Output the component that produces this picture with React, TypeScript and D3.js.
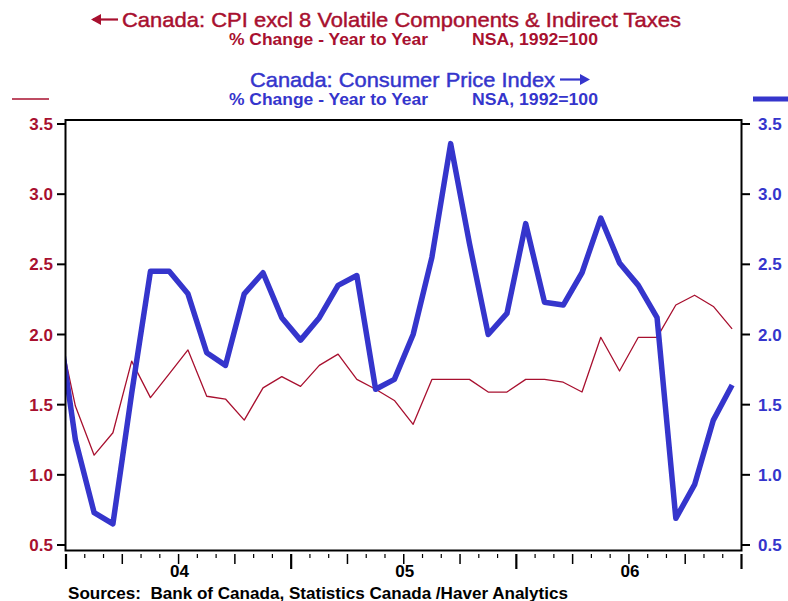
import React from "react";
import * as d3 from "d3";

const RED = "#A8102F";
const BLUE = "#3535CC";

// Months: index -1 = Dec 2003, 0..35 = Jan 2004 .. Dec 2006
const monthIndex = d3.range(-1, 36);
const cpixValues = [
  2.12,
  1.49, 1.14, 1.30, 1.81, 1.55, 1.72, 1.89, 1.56, 1.54, 1.39, 1.62, 1.70,
  1.63, 1.78, 1.86, 1.68, 1.61, 1.53, 1.36, 1.68, 1.68, 1.68, 1.59, 1.59,
  1.68, 1.68, 1.66, 1.59, 1.98, 1.74, 1.98, 1.98, 2.21, 2.28, 2.20, 2.04,
];
const cpiValues = [
  2.18,
  1.25, 0.73, 0.65, 1.58, 2.45, 2.45, 2.29, 1.87, 1.78, 2.29, 2.44, 2.12,
  1.96, 2.12, 2.35, 2.42, 1.61, 1.68, 2.00, 2.55, 3.36, 2.65, 2.00, 2.15,
  2.79, 2.23, 2.21, 2.44, 2.83, 2.51, 2.35, 2.12, 0.69, 0.93, 1.39, 1.64,
];
const yTicks = [0.5, 1.0, 1.5, 2.0, 2.5, 3.0, 3.5];
const yearLabels = ["04", "05", "06"];

const W = 788;
const H = 601;
const L = 65.5;
const R = 741.5;
const T = 120;
const B = 550.5;

export default function App() {
  const x = d3.scaleLinear().domain([0, 36]).range([L + 0.5, R]);
  const y = d3.scaleLinear().domain([0.5, 3.5]).range([545, 124]);
  const xp = (i: number) => x(i + 0.5);

  const redLine = d3
    .line<number>()
    .x((_, i) => xp(monthIndex[i]))
    .y((d) => y(d))(cpixValues) as string;
  const blueLine = d3
    .line<number>()
    .x((_, i) => xp(monthIndex[i]))
    .y((d) => y(d))(cpiValues) as string;

  const monthTicks = d3.range(0, 37);
  const font = "'Liberation Sans', Arial, sans-serif";

  return (
    <div style={{ position: "absolute", left: 0, top: 0 }}>
      <svg width={W} height={H} style={{ display: "block", background: "#fff" }} fontFamily={font}>
        <defs>
          <clipPath id="plot">
            <rect x={L} y={T} width={R - L} height={B - T} />
          </clipPath>
        </defs>

        {/* Titles */}
        <g fill={RED}>
          <line x1={93} y1={19.5} x2={118} y2={19.5} stroke={RED} strokeWidth={2.2} />
          <path d="M91,19.5 L101,14 L101,25 Z" />
          <text x={122} y={27} fontSize={21} stroke={RED} strokeWidth={0.45} textLength={559} lengthAdjust="spacingAndGlyphs">
            Canada: CPI excl 8 Volatile Components &amp; Indirect Taxes
          </text>
          <text x={229} y={45} fontSize={16} fontWeight="bold" textLength={199} lengthAdjust="spacingAndGlyphs">% Change - Year to Year</text>
          <text x={472} y={45} fontSize={16} fontWeight="bold" textLength={126} lengthAdjust="spacingAndGlyphs">NSA, 1992=100</text>
        </g>
        <g fill={BLUE}>
          <text x={250} y={87} fontSize={21} stroke={BLUE} strokeWidth={0.45} textLength={305} lengthAdjust="spacingAndGlyphs">
            Canada: Consumer Price Index
          </text>
          <line x1={560} y1={79.5} x2={584} y2={79.5} stroke={BLUE} strokeWidth={2.2} />
          <path d="M590,79.5 L580,74 L580,85 Z" />
          <text x={229} y={105} fontSize={16} fontWeight="bold" textLength={199} lengthAdjust="spacingAndGlyphs">% Change - Year to Year</text>
          <text x={472} y={105} fontSize={16} fontWeight="bold" textLength={126} lengthAdjust="spacingAndGlyphs">NSA, 1992=100</text>
        </g>

        {/* legend keys */}
        <line x1={12} y1={99} x2={49} y2={99} stroke={RED} strokeWidth={1.5} />
        <line x1={753} y1={99} x2={788} y2={99} stroke={BLUE} strokeWidth={5} />

        {/* data */}
        <g clipPath="url(#plot)" fill="none" strokeLinejoin="round">
          <path d={redLine} stroke={RED} strokeWidth={1.3} />
          <path d={blueLine} stroke={BLUE} strokeWidth={5.5} />
        </g>

        {/* frame */}
        <rect x={L} y={T} width={R - L} height={B - T} fill="none" stroke="#000" strokeWidth={2} />

        {/* y axes */}
        {yTicks.map((t) => (
          <g key={t}>
            <line x1={57} x2={L} y1={y(t)} y2={y(t)} stroke="#000" strokeWidth={2} />
            <line x1={R} x2={750} y1={y(t)} y2={y(t)} stroke="#000" strokeWidth={2} />
            <text x={53} y={y(t) + 6} fontSize={17} fontWeight="bold" fill={RED} textAnchor="end">
              {t.toFixed(1)}
            </text>
            <text x={758} y={y(t) + 6} fontSize={17} fontWeight="bold" fill={BLUE}>
              {t.toFixed(1)}
            </text>
          </g>
        ))}

        {/* x axis ticks */}
        {monthTicks.map((m) => {
          const len = m % 12 === 0 ? 15 : m % 3 === 0 ? 10 : 4;
          const w = m % 12 === 0 ? 2.2 : m % 3 === 0 ? 1.5 : 1.2;
          const xx = x(m);
          return <line key={m} x1={xx} x2={xx} y1={554} y2={554 + len} stroke="#000" strokeWidth={w} />;
        })}
        {yearLabels.map((lab, i) => (
          <text key={lab} x={x(i * 12 + 6) + 1} y={577} fontSize={17} fontWeight="bold" textAnchor="middle">
            {lab}
          </text>
        ))}

        <text x={68} y={599} fontSize={16} fontWeight="bold" textLength={500} lengthAdjust="spacingAndGlyphs">
          Sources:{"\u00a0\u00a0"}Bank of Canada, Statistics Canada /Haver Analytics
        </text>
      </svg>
    </div>
  );
}
